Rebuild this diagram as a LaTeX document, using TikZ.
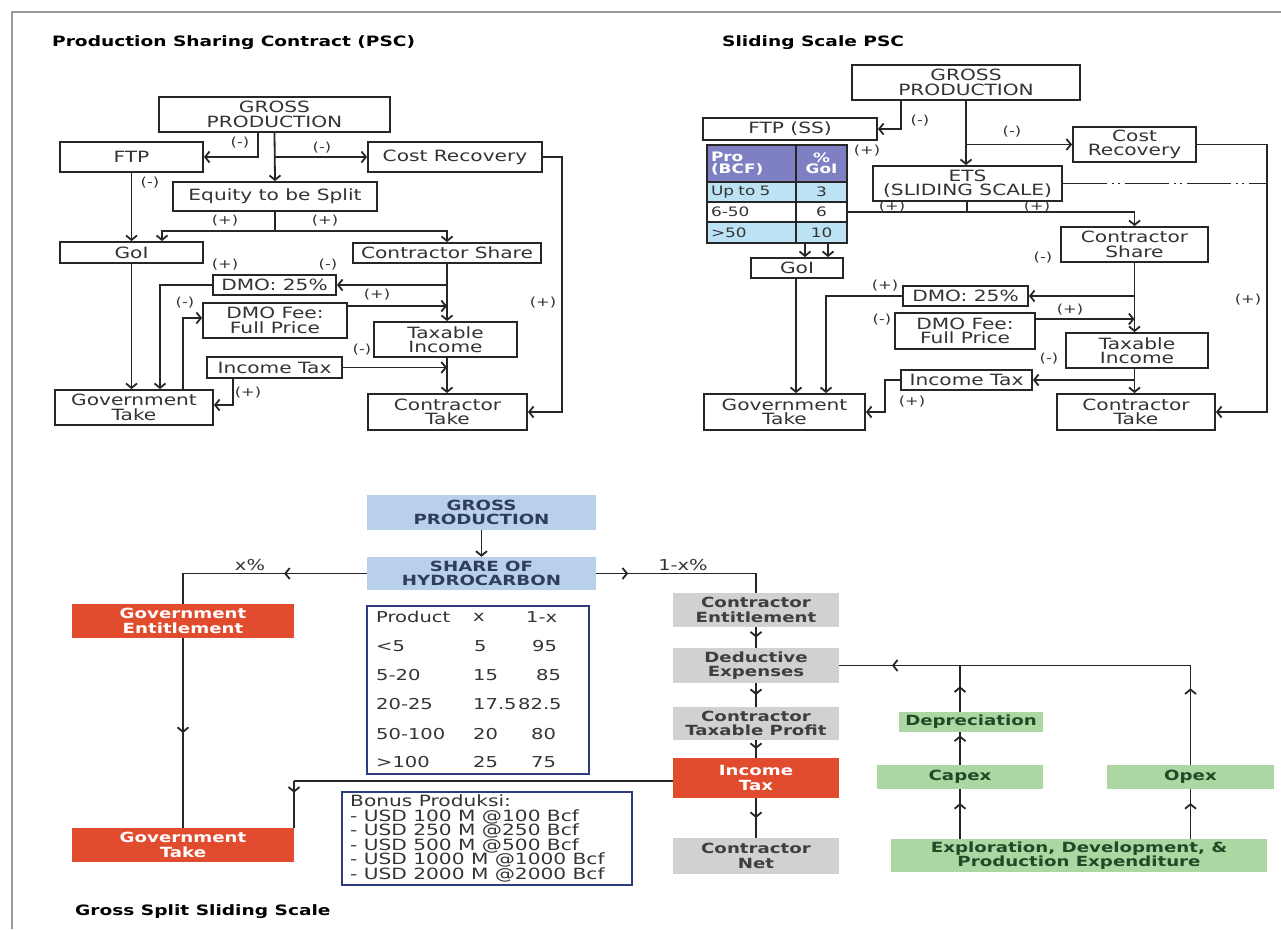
\documentclass[tikz,border=0pt]{standalone}
\usepackage{fontspec}
\setmainfont{DejaVu Sans}[FakeStretch=1.3]
\usetikzlibrary{arrows.meta,decorations.markings,calc}
\definecolor{linec}{HTML}{262626}
\definecolor{txtc}{HTML}{333333}
\definecolor{hdrc}{HTML}{7F80C4}
\definecolor{rowc}{HTML}{BCE3F4}
\definecolor{bluec}{HTML}{B8D0EA}
\definecolor{bluetx}{HTML}{2E3D5C}
\definecolor{redc}{HTML}{E14B2E}
\definecolor{grayc}{HTML}{CFD1D3}
\definecolor{graytx}{HTML}{3E3E3E}
\definecolor{greenc}{HTML}{ACD7A3}
\definecolor{greentx}{HTML}{1E4A26}
\definecolor{navyc}{HTML}{2D3C7C}
\definecolor{framec}{HTML}{9A9A9A}
\newcommand\mainfs{\fontsize{15.5}{14.3}\selectfont}
\newcommand\smallfs{\fontsize{12.5}{12}\selectfont}
\newcommand\titlefs{\fontsize{14.3}{16}\selectfont\bfseries}
\newcommand\botfs{\fontsize{14}{14.3}\selectfont\bfseries}
\newcommand\tabfs{\fontsize{15}{15}\selectfont}
\newcommand\bonusfs{\fontsize{15.5}{14.5}\selectfont}
\newcommand\cellfs{\fontsize{13}{11.5}\selectfont}
\tikzset{
  ln/.style={draw, color=linec, line width=1.8pt},
  arr/.style={ln, -{Straight Barb[length=4.5pt,width=11pt]}},
  pbox/.style={draw=linec, line width=1.8pt, fill=white, inner sep=0pt, align=center, text=txtc, font=\mainfs},
  lbl/.style={font=\smallfs, text=txtc, inner sep=0pt},
  ttl/.style={anchor=west, font=\titlefs, inner sep=0pt, text=black},
  bluebox/.style={fill=bluec, inner sep=0pt, align=center, font=\botfs, text=bluetx},
  redbox/.style={fill=redc, inner sep=0pt, align=center, font=\botfs, text=white},
  graybox/.style={fill=grayc, inner sep=0pt, align=center, font=\botfs, text=graytx},
  greenbox/.style={fill=greenc, inner sep=0pt, align=center, font=\botfs, text=greentx},
  cellL/.style={draw=linec, line width=1.5pt, inner xsep=4pt, inner ysep=0pt, text width=81pt, minimum width=89pt, align=left, font=\cellfs, text=txtc},
  cellR/.style={draw=linec, line width=1.5pt, inner sep=0pt, minimum width=51pt, align=center, font=\cellfs, text=txtc},
  tabtxt/.style={anchor=west, inner sep=0pt, font=\tabfs, text=txtc},
  midarr/.style={postaction={decorate,decoration={markings,mark=at position #1 with {\arrow{Straight Barb[length=4.5pt,width=11pt]}}}}},
  midarr/.default=0.5
}
\begin{document}
\begin{tikzpicture}[x=1pt,y=-1pt]
\useasboundingbox (0,0) rectangle (1281,929);
\draw[framec, line width=1.2pt] (12,929) -- (12,12) -- (1281,12);

% titles
\node[ttl] (t1) at (52,43) {Production Sharing Contract (PSC)};
\node[ttl] (t2) at (722,43) {Sliding Scale PSC};
\node[ttl] (t3) at (75,912) {Gross Split Sliding Scale};

% ---------------- PSC (top left)
\node[pbox, minimum width=231pt, minimum height=35pt] (g1) at (274.5,114.5) {GROSS\\PRODUCTION};
\node[pbox, minimum width=143pt, minimum height=30pt] (ftp1) at (131.5,157) {FTP};
\node[pbox, minimum width=174pt, minimum height=30pt] (cr1) at (455,157) {Cost Recovery};
\node[pbox, minimum width=204pt, minimum height=29pt] (eq1) at (275,196.5) {Equity to be Split};
\node[pbox, minimum width=143pt, minimum height=21pt] (goi1) at (131.5,252.5) {GoI};
\node[pbox, minimum width=188pt, minimum height=20pt] (cs1) at (447,253) {Contractor Share};
\node[pbox, minimum width=123pt, minimum height=20pt] (dmo1) at (274.5,285) {DMO: 25\%};
\node[pbox, minimum width=144pt, minimum height=35pt] (dmof1) at (275,320.5) {DMO Fee:\\Full Price};
\node[pbox, minimum width=135pt, minimum height=21pt] (it1) at (274.5,367.5) {Income Tax};
\node[pbox, minimum width=158pt, minimum height=35pt] (gt1) at (134,407.5) {Government\\Take};
\node[pbox, minimum width=143pt, minimum height=35pt] (ti1) at (445.5,339.5) {Taxable\\Income};
\node[pbox, minimum width=159pt, minimum height=36pt] (ct1) at (447.5,412) {Contractor\\Take};
\coordinate (j1) at (275,231);
\coordinate (r1) at (562,0);

\draw[arr] ([xshift=-16.5pt]g1.south) |- (ftp1.east);
\draw[arr] (g1.south) -- (eq1.north);
\draw[arr] (g1.south |- cr1.west) -- (cr1.west);
\draw[arr] (ftp1.south) -- (goi1.north);
\draw[ln] (eq1.south) -- (j1);
\draw[arr] (j1) -| ([xshift=30.5pt]goi1.north);
\draw[arr] (j1) -| (cs1.north);
\draw[arr] (cr1.east) -- (cr1.east -| r1) |- (ct1.east);
\draw[arr] (cs1.south) -- (cs1.south |- ti1.north);
\draw[arr] (cs1.south |- dmo1.east) -- (dmo1.east);
\draw[arr] ([yshift=14.5pt]dmof1.east) -- ([yshift=14.5pt]dmof1.east -| cs1.south);
\draw[arr] (ti1.south -| cs1.south) -- (ct1.north -| cs1.south);
\draw[arr] (it1.east) -- (it1.east -| cs1.south);
\draw[arr] (goi1.south) -- (goi1.south |- gt1.north);
\draw[arr] (dmo1.west) -| ([xshift=26pt]gt1.north);
\draw[arr] ([xshift=49pt]gt1.north) |- ([yshift=2.5pt]dmof1.west);
\draw[arr] ([xshift=-41.5pt]it1.south) |- ([yshift=2.5pt]gt1.east);

\node[lbl] (l1) at (240,143) {(-)};
\node[lbl] (l2) at (322,148) {(-)};
\node[lbl] (l3) at (150,183) {(-)};
\node[lbl] (l4) at (225,221) {(+)};
\node[lbl] (l5) at (325,221) {(+)};
\node[lbl] (l6) at (225,265) {(+)};
\node[lbl] (l7) at (328,265) {(-)};
\node[lbl] (l8) at (185,303) {(-)};
\node[lbl] (l9) at (377,295) {(+)};
\node[lbl] (l10) at (362,350) {(-)};
\node[lbl] (l11) at (543,303) {(+)};
\node[lbl] (l12) at (248,393) {(+)};

% ---------------- Sliding scale PSC (top right)
\node[pbox, minimum width=228pt, minimum height=35pt] (g2) at (966,82.5) {GROSS\\PRODUCTION};
\node[pbox, minimum width=174pt, minimum height=22pt] (ftp2) at (790,129) {FTP (SS)};
\node[pbox, minimum width=123pt, minimum height=35pt] (cr2) at (1134.5,144.5) {Cost\\Recovery};
\node[pbox, minimum width=189pt, minimum height=35pt] (ets2) at (967.5,183.5) {ETS\\(SLIDING SCALE)};
\node[cellL, fill=hdrc, minimum height=37pt, text=white, font=\cellfs\bfseries] (t11) at (751.5,163.5) {Pro\\(BCF)};
\node[cellR, fill=hdrc, minimum height=37pt, text=white, font=\cellfs\bfseries] (t12) at (821.5,163.5) {\%\\GoI};
\node[cellL, fill=rowc, minimum height=20pt] (t21) at (751.5,192) {Up to 5};
\node[cellR, fill=rowc, minimum height=20pt] (t22) at (821.5,192) {3};
\node[cellL, fill=white, minimum height=20pt] (t31) at (751.5,212) {6-50};
\node[cellR, fill=white, minimum height=20pt] (t32) at (821.5,212) {6};
\node[cellL, fill=rowc, minimum height=21pt] (t41) at (751.5,232.5) {>50};
\node[cellR, fill=rowc, minimum height=21pt] (t42) at (821.5,232.5) {10};
\node[pbox, minimum width=92pt, minimum height=20pt] (goi2) at (797,268) {GoI};
\node[pbox, minimum width=147pt, minimum height=35pt] (cs2) at (1134.5,244.5) {Contractor\\Share};
\node[pbox, minimum width=125pt, minimum height=20pt] (dmo2) at (965.5,296) {DMO: 25\%};
\node[pbox, minimum width=140pt, minimum height=36pt] (dmof2) at (965,331) {DMO Fee:\\Full Price};
\node[pbox, minimum width=142pt, minimum height=35pt] (ti2) at (1137,350.5) {Taxable\\Income};
\node[pbox, minimum width=131pt, minimum height=20pt] (it2) at (966.5,380) {Income Tax};
\node[pbox, minimum width=158pt, minimum height=36pt] (ct2) at (1136,412) {Contractor\\Take};
\node[pbox, minimum width=161pt, minimum height=36pt] (gt2) at (784.5,412) {Government\\Take};
\coordinate (j2) at (967,212);
\coordinate (r2) at (1267,0);
\coordinate (k2) at (885,0);

\draw[arr] ([xshift=-65pt]g2.south) |- (ftp2.east);
\draw[arr] (g2.south) -- (g2.south |- ets2.north);
\draw[arr] (g2.south |- cr2.west) -- (cr2.west);
\draw[arr] (cr2.east) -- (cr2.east -| r2) |- (ct2.east);
\draw[color=linec, line width=1.5pt, dash pattern=on 44pt off 5pt on 2pt off 4pt on 2pt off 5pt] (ets2.east) -- (ets2.east -| r2);
\draw[ln] (ets2.south -| j2) -- (j2);
\draw[arr] (t32.east) -| (cs2.north);
\draw[arr] ([xshift=8pt]goi2.north |- t42.south) -- ([xshift=8pt]goi2.north);
\draw[arr] ([xshift=31pt]goi2.north |- t42.south) -- ([xshift=31pt]goi2.north);
\draw[arr] (cs2.south) -- (cs2.south |- ti2.north);
\draw[arr] (cs2.south |- dmo2.east) -- (dmo2.east);
\draw[arr] ([yshift=12pt]dmof2.east) -- ([yshift=12pt]dmof2.east -| cs2.south);
\draw[arr] (ti2.south -| cs2.south) -- (ct2.north -| cs2.south);
\draw[arr] (cs2.south |- it2.east) -- (it2.east);
\draw[arr] ([xshift=-1pt]goi2.south) -- ([xshift=-1pt]goi2.south |- gt2.north);
\draw[arr] (dmo2.west) -| ([xshift=41.5pt]gt2.north);
\draw[arr] (it2.west) -- (it2.west -| k2) |- (gt2.east);

\node[lbl] (m1) at (920,121) {(-)};
\node[lbl] (m2) at (1012,132) {(-)};
\node[lbl] (m3) at (867,151) {(+)};
\node[lbl] (m4) at (892,207) {(+)};
\node[lbl] (m5) at (1037,207) {(+)};
\node[lbl] (m6) at (1043,258) {(-)};
\node[lbl] (m7) at (885,286) {(+)};
\node[lbl] (m8) at (882,320) {(-)};
\node[lbl] (m9) at (1070,310) {(+)};
\node[lbl] (m10) at (1049,359) {(-)};
\node[lbl] (m11) at (912,402) {(+)};
\node[lbl] (m12) at (1248,300) {(+)};

% ---------------- Gross split (bottom)
\node[bluebox, minimum width=229pt, minimum height=35pt] (bg) at (481.5,512.5) {GROSS\\PRODUCTION};
\node[bluebox, minimum width=229pt, minimum height=33pt] (bs) at (481.5,573.5) {SHARE OF\\HYDROCARBON};
\node[redbox, minimum width=222pt, minimum height=34pt] (bge) at (183,621) {Government\\Entitlement};
\node[redbox, minimum width=222pt, minimum height=34pt] (bgt) at (183,845) {Government\\Take};
\node[graybox, minimum width=166pt, minimum height=34pt] (ce) at (756,610) {Contractor\\Entitlement};
\node[graybox, minimum width=166pt, minimum height=35pt] (de) at (756,665.5) {Deductive\\Expenses};
\node[graybox, minimum width=166pt, minimum height=33pt] (ctp) at (756,723.5) {Contractor\\Taxable Profit};
\node[redbox, minimum width=166pt, minimum height=40pt] (itb) at (756,778) {Income\\Tax};
\node[graybox, minimum width=166pt, minimum height=36pt] (cn) at (756,856) {Contractor\\Net};
\node[greenbox, minimum width=144pt, minimum height=20pt] (dep) at (971,722) {Depreciation};
\node[greenbox, minimum width=166pt, minimum height=24pt] (cap) at (960,777) {Capex};
\node[greenbox, minimum width=167pt, minimum height=24pt] (opx) at (1190.5,777) {Opex};
\node[greenbox, minimum width=376pt, minimum height=33pt] (exp) at (1079,855.5) {Exploration, Development, \&\\Production Expenditure};
\coordinate (k3) at ([xshift=111pt]bgt.north);
\coordinate (k4) at ([yshift=-3pt]itb.west);

\draw[arr] (bg.south) -- (bs.north);
\draw[ln] (bs.west) -| (bge.north);
\draw[ln, midarr=0.45] (bs.west) -- (bs.west -| bge.north);
\draw[ln, midarr] (bge.south) -- (bgt.north);
\draw[ln] (bs.east) -| (ce.north);
\draw[ln, midarr=0.2] (bs.east) -- (bs.east -| ce.north);
\draw[ln, midarr] (ce.south) -- (de.north);
\draw[ln, midarr] (de.south) -- (ctp.north);
\draw[ln, midarr] (ctp.south) -- (itb.north);
\draw[ln, midarr] (itb.south) -- (cn.north);
\draw[ln] (opx.north) |- (de.east);
\draw[ln, midarr=0.85] (opx.north |- de.east) -- (de.east);
\draw[ln, midarr=0.77] (opx.north) -- (opx.north |- de.east);
\draw[ln, midarr=0.55] (dep.north -| cap.north) -- (de.east -| cap.north);
\draw[ln, midarr=0.9] (cap.north) -- (dep.south -| cap.north);
\draw[ln, midarr=0.72] (exp.north -| cap.north) -- (cap.south);
\draw[ln, midarr=0.72] (exp.north -| opx.north) -- (opx.south);
\draw[ln] (k4) -- (k4 -| k3);
\draw[ln, midarr=0.25] (k4 -| k3) -- (k3);

\node[font=\tabfs, text=txtc, inner sep=0pt] (xp) at (250,565) {x\%};
\node[font=\tabfs, text=txtc, inner sep=0pt] (ox) at (683,565) {1-x\%};

% product table
\node[draw=navyc, line width=1.5pt, minimum width=222pt, minimum height=168pt, inner sep=0pt] (ptab) at (478,690) {};
\node[tabtxt] (p01) at (376,617) {Product};
\node[tabtxt] (p02) at (473,617) {x};
\node[tabtxt] (p03) at (526,617) {1-x};
\node[tabtxt] (p11) at (376,646) {<5};
\node[tabtxt] (p12) at (474,646) {5};
\node[tabtxt] (p13) at (532,646) {95};
\node[tabtxt] (p21) at (376,675) {5-20};
\node[tabtxt] (p22) at (473,675) {15};
\node[tabtxt] (p23) at (536,675) {85};
\node[tabtxt] (p31) at (376,704) {20-25};
\node[tabtxt] (p32) at (473,704) {17.5};
\node[tabtxt] (p33) at (518,704) {82.5};
\node[tabtxt] (p41) at (376,734) {50-100};
\node[tabtxt] (p42) at (473,734) {20};
\node[tabtxt] (p43) at (531,734) {80};
\node[tabtxt] (p51) at (376,762) {>100};
\node[tabtxt] (p52) at (473,762) {25};
\node[tabtxt] (p53) at (531,762) {75};

% bonus box
\node[draw=navyc, line width=1.5pt, minimum width=290pt, minimum height=93pt, inner sep=0pt] (bonus) at (487,838.5) {};
\node[anchor=north west, align=left, inner sep=0pt, font=\bonusfs, text=txtc] (bonustxt) at (350,795) {Bonus Produksi:\\- USD 100 M @100 Bcf\\- USD 250 M @250 Bcf\\- USD 500 M @500 Bcf\\- USD 1000 M @1000 Bcf\\- USD 2000 M @2000 Bcf};
\end{tikzpicture}
\end{document}
